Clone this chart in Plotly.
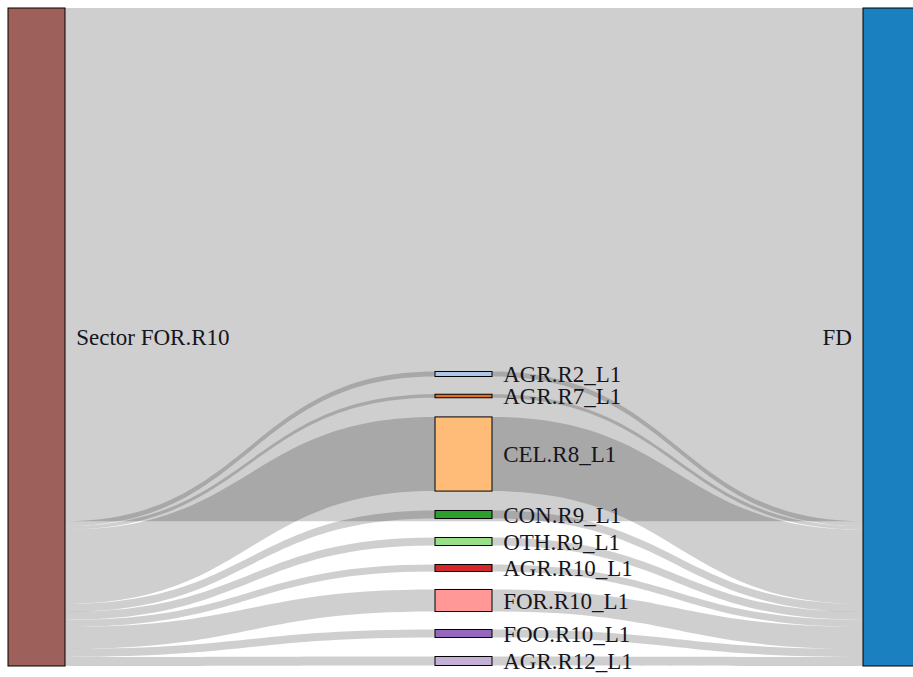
import plotly.graph_objects as go

# ---- data ----
source_label = "Sector FOR.R10"
sink_label = "FD"
mid_labels = ["AGR.R2_L1", "AGR.R7_L1", "CEL.R8_L1", "CON.R9_L1", "OTH.R9_L1",
              "AGR.R10_L1", "FOR.R10_L1", "FOO.R10_L1", "AGR.R12_L1"]
direct_value = 512
mid_values = [5, 3.5, 74, 8, 8, 7, 22, 8, 9]

# ---- styling / layout (positions in pixels of plot area) ----
W, H = 913, 677
TOP, BOT = 8, 11
plot_h = H - TOP - BOT
mid_centers_px = [374, 396, 454, 514.5, 541.5, 568, 600.5, 633.5, 661]
x_left_px, x_mid_px, x_right_px = 36.5, 463.5, 891.5

fill_colors = ["#9d605a", "#aec7e8", "#e07020", "#ffbb78", "#2ca02c", "#98df8a",
               "#d62728", "#ff9896", "#9467bd", "#c5b0d5", "#1a80bf"]
line_colors = ["#5a3531", "#7f93ab", "#8d4a12", "#c8925c", "#2a7a2a", "#6fa865",
               "#9a2222", "#c07472", "#6a4a8a", "#9a88a8", "#0e4f78"]

PAD_R = "\u00a0\u200a"   # gap between node and label (label on right side)
PAD_L = "\u00a0\u200a"   # gap for label on left side of node

labels = [PAD_R + source_label] + [PAD_R + m for m in mid_labels] + [sink_label + PAD_L]
n_mid = len(mid_labels)
sink_idx = n_mid + 1

sources, targets, values = [0], [sink_idx], [direct_value]
for i, v in enumerate(mid_values):
    sources.append(0); targets.append(i + 1); values.append(v)
for i, v in enumerate(mid_values):
    sources.append(i + 1); targets.append(sink_idx); values.append(v)

node_x = [x_left_px / W] + [x_mid_px / W] * n_mid + [x_right_px / W]
node_y = [0.5] + [(c - TOP) / plot_h for c in mid_centers_px] + [0.5]

fig = go.Figure(go.Sankey(
    arrangement="fixed",
    node=dict(
        label=labels,
        x=node_x,
        y=node_y,
        thickness=57,
        pad=10,
        color=fill_colors,
        line=dict(color=line_colors, width=1),
    ),
    link=dict(
        source=sources,
        target=targets,
        value=values,
        color="rgba(0,0,0,0.19)",
    ),
    textfont=dict(family="Liberation Serif", size=23, color="#151520", shadow="none"),
))

fig.update_layout(
    width=W, height=H,
    margin=dict(l=0, r=0, t=TOP, b=BOT),
    paper_bgcolor="white",
    plot_bgcolor="white",
)

fig.write_html(
    "out.html",
    config={"displayModeBar": False},
    post_script="document.body.style.margin='0';document.body.style.overflow='hidden';",
)
